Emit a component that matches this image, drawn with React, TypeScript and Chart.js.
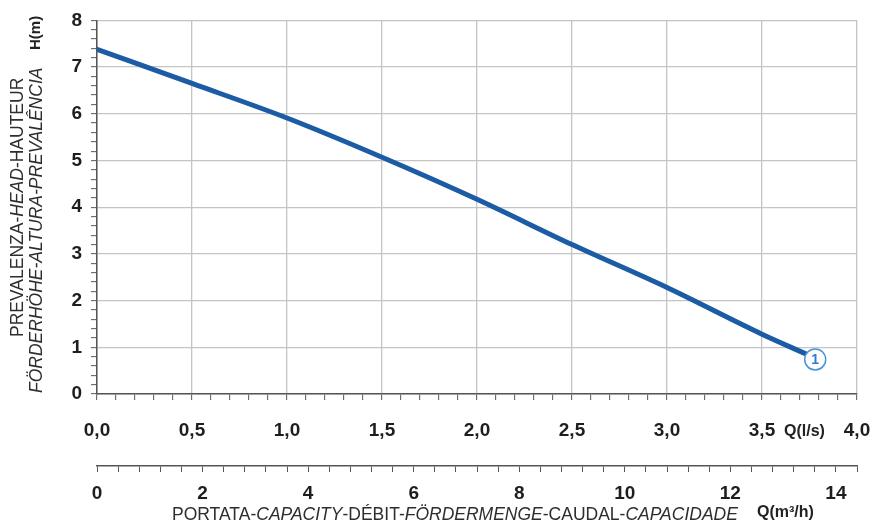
import React, { useEffect, useRef } from "react";
import { Chart, registerables } from "chart.js";

Chart.register(...registerables);

// ---- data ----
const flowLs = [0, 0.5, 1.0, 1.5, 2.0, 2.5, 3.0, 3.5, 3.73];
const headM = [7.38, 6.65, 5.91, 5.07, 4.17, 3.2, 2.28, 1.28, 0.86];
const markerFlow = [3.78];
const markerHead = [0.74];
const markerLabels = ["1"];

const flowTickValues = [0, 0.5, 1, 1.5, 2, 2.5, 3, 3.5, 4];
const flowTickLabels = ["0,0", "0,5", "1,0", "1,5", "2,0", "2,5", "3,0", "3,5", "4,0"];
const m3hTickValues = [0, 2, 4, 6, 8, 10, 12, 14];
const m3hTickLabels = ["0", "2", "4", "6", "8", "10", "12", "14"];
const headTickValues = [0, 1, 2, 3, 4, 5, 6, 7, 8];
const headTickLabels = ["0", "1", "2", "3", "4", "5", "6", "7", "8"];

const yTitleLine1: [string, boolean][] = [
  ["PREVALENZA-", false],
  ["HEAD", true],
  ["-HAUTEUR", false],
];
const yTitleLine2: [string, boolean][] = [["FÖRDERHÖHE-ALTURA-PREVALÊNCIA", true]];
const xTitle: [string, boolean][] = [
  ["PORTATA-", false],
  ["CAPACITY", true],
  ["-DÉBIT-", false],
  ["FÖRDERMENGE", true],
  ["-CAUDAL-", false],
  ["CAPACIDADE", true],
];
const yUnit = "H(m)";
const xUnit1 = "Q(l/s)";
const xUnit2 = "Q(m³/h)";

const FONT = '"Liberation Sans", Arial, sans-serif';

const near = (a: number, b: number) => Math.abs(a - b) < 1e-6;
const findLabel = (v: number, vals: number[], labels: string[]) => {
  const i = vals.findIndex((t) => near(t, v));
  return i >= 0 ? labels[i] : "";
};

const textPlugin = {
  id: "customText",
  afterDraw(chart: any) {
    const ctx: CanvasRenderingContext2D = chart.ctx;
    ctx.save();
    ctx.textBaseline = "middle";
    ctx.textAlign = "left";
    const drawSegs = (segs: [string, boolean][], x: number, y: number, size: number) => {
      let cx = x;
      for (const [t, it] of segs) {
        ctx.font = `${it ? "italic " : ""}${size}px ${FONT}`;
        ctx.fillText(t, cx, y);
        cx += ctx.measureText(t).width;
      }
    };
    ctx.fillStyle = "#2e2e2e";
    // y title (rotated)
    ctx.save();
    ctx.translate(18, 337);
    ctx.rotate(-Math.PI / 2);
    drawSegs(yTitleLine1, 0, 0, 17.5);
    ctx.restore();
    ctx.save();
    ctx.translate(37, 393);
    ctx.rotate(-Math.PI / 2);
    drawSegs(yTitleLine2, 0, 0, 17.5);
    ctx.restore();
    ctx.save();
    ctx.fillStyle = "#222";
    ctx.translate(36, 50);
    ctx.rotate(-Math.PI / 2);
    ctx.font = `bold 15px ${FONT}`;
    ctx.fillText(yUnit, 0, 0);
    ctx.restore();

    // x titles
    ctx.fillStyle = "#2e2e2e";
    drawSegs(xTitle, 172, 515, 17.5);
    ctx.fillStyle = "#222";
    ctx.font = `bold 16px ${FONT}`;
    ctx.fillText(xUnit1, 784, 432);
    ctx.fillText(xUnit2, 757, 513);

    // marker labels
    const meta = chart.getDatasetMeta(0);
    ctx.textAlign = "center";
    ctx.fillStyle = "#2f7cc8";
    ctx.font = `bold 14px ${FONT}`;
    meta.data.forEach((pt: any, i: number) => {
      ctx.fillText(markerLabels[i], pt.x, pt.y + 1);
    });
    ctx.restore();
  },
};

export default function App() {
  const ref = useRef<HTMLCanvasElement | null>(null);
  useEffect(() => {
    if (!ref.current) return;
    const chart = new Chart(ref.current, {
      type: "line",
      data: {
        datasets: [
          {
            data: markerFlow.map((x, i) => ({ x, y: markerHead[i] })),
            showLine: false,
            pointRadius: 10.5,
            pointBackgroundColor: "#ffffff",
            pointBorderColor: "#4a95d8",
            pointBorderWidth: 1.5,
            xAxisID: "x",
            yAxisID: "y",
          },
          {
            data: flowLs.map((x, i) => ({ x, y: headM[i] })),
            borderColor: "#1c5ca5",
            borderWidth: 5,
            pointRadius: 0,
            tension: 0.4,
            cubicInterpolationMode: "monotone",
            borderCapStyle: "round",
            fill: false,
            xAxisID: "x",
            yAxisID: "y",
          },
        ],
      },
      options: {
        responsive: false,
        animation: false,
        devicePixelRatio: 1,
        layout: { padding: { top: 18, right: 20, left: 0, bottom: 0 } },
        plugins: { legend: { display: false }, tooltip: { enabled: false } },
        scales: {
          x: {
            type: "linear",
            position: "bottom",
            weight: 0,
            min: 0,
            max: 4,
            afterFit: (s: any) => {
              s.height = 72;
              s.paddingLeft = 0;
              s.paddingRight = 0;
            },
            ticks: {
              stepSize: 0.1,
              autoSkip: false,
              maxRotation: 0,
              padding: 19,
              color: "#1e1e1e",
              font: { family: FONT, size: 19, weight: "bold" },
              callback: (v: any) => findLabel(Number(v), flowTickValues, flowTickLabels),
            },
            grid: {
              color: (c: any) => (flowTickValues.some((t) => near(t, c.tick.value)) ? "#c4c4c4" : "transparent"),
              lineWidth: 1.3,
              tickColor: "#555",
              tickLength: 6,
              tickWidth: 1,
            },
            border: { color: "#555", width: 1.5 },
          },
          x2: {
            type: "linear",
            position: "bottom",
            weight: 1,
            min: 0,
            max: 14.4,
            afterFit: (s: any) => {
              s.height = 59;
              s.paddingLeft = 0;
              s.paddingRight = 0;
            },
            ticks: {
              stepSize: 0.4,
              autoSkip: false,
              maxRotation: 0,
              padding: 10,
              color: "#1e1e1e",
              font: { family: FONT, size: 19, weight: "bold" },
              callback: (v: any) => findLabel(Number(v), m3hTickValues, m3hTickLabels),
            },
            grid: {
              drawOnChartArea: false,
              tickColor: "#555",
              tickLength: 6,
              tickWidth: 1,
            },
            border: { color: "#555", width: 1.5 },
          },
          y: {
            type: "linear",
            position: "left",
            min: 0,
            max: 8,
            afterFit: (s: any) => {
              s.width = 97;
            },
            ticks: {
              stepSize: 0.2,
              autoSkip: false,
              padding: 9,
              color: "#1e1e1e",
              font: { family: FONT, size: 19, weight: "bold" },
              callback: (v: any) => findLabel(Number(v), headTickValues, headTickLabels),
            },
            grid: {
              color: (c: any) => (headTickValues.some((t) => near(t, c.tick.value)) ? "#c4c4c4" : "transparent"),
              lineWidth: 1.3,
              tickColor: "#555",
              tickLength: 6,
              tickWidth: 1,
            },
            border: { color: "#555", width: 1.5 },
          },
        },
      } as any,
      plugins: [textPlugin],
    });
    return () => chart.destroy();
  }, []);
  return (
    <div style={{ position: "fixed", left: 0, top: 0, width: 877, height: 525, background: "#fff" }}>
      <canvas ref={ref} width={877} height={525} style={{ display: "block" }} />
    </div>
  );
}
